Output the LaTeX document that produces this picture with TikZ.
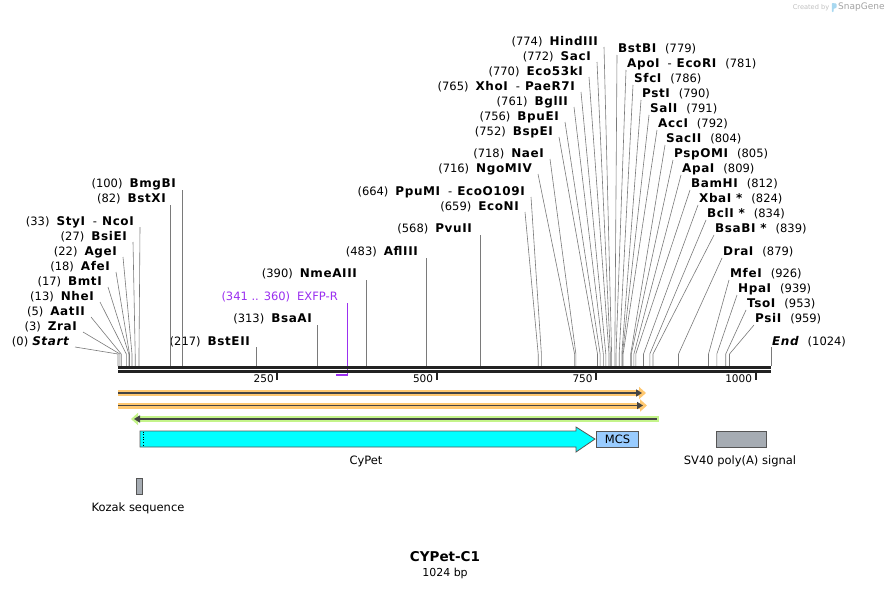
\documentclass[tikz,border=0pt]{standalone}
\usepackage{fontspec}
\setmainfont{DejaVu Sans}
\usetikzlibrary{arrows.meta}

\definecolor{barblack}{HTML}{222222}
\definecolor{cutgrey}{HTML}{7A7A7A}
\definecolor{primerpurple}{HTML}{9B30F0}
\definecolor{orangelt}{HTML}{FFC870}
\definecolor{greenlt}{HTML}{C4F48A}
\definecolor{featdark}{HTML}{444444}
\definecolor{cypetfill}{HTML}{00FFFF}
\definecolor{mcsfill}{HTML}{99CCFF}
\definecolor{polyafill}{HTML}{A6ACB3}
\definecolor{boxedge}{HTML}{555555}
\definecolor{logogrey}{HTML}{C0C0C0}
\definecolor{logoblue}{HTML}{A8D8F0}

\newcommand{\enzyme}[1]{{\fontsize{12}{14}\selectfont\bfseries\addfontfeature{LetterSpace=5}#1}}
\newcommand{\pairdash}{\hspace{8pt}-\hspace{5pt}}

\tikzset{
  lsite/.style={anchor=east, inner sep=0pt, font=\fontsize{11.5}{13}\selectfont},
  rsite/.style={anchor=west, inner sep=0pt, font=\fontsize{11.5}{13}\selectfont},
  cut/.style={draw=cutgrey, line width=0.6pt},
  primer/.style={draw=primerpurple, line width=1.1pt},
  bar/.style={draw=barblack, line width=2.8pt},
  tick/.style={draw=barblack, line width=2pt},
  ticklabel/.style={anchor=east, inner sep=0pt, font=\fontsize{10.5}{12}\selectfont},
  band/.style={draw=#1, line width=6pt},
  core/.style={draw=featdark, line width=1.8pt},
  featbox/.style={draw=boxedge, line width=0.8pt, inner sep=0pt, minimum height=16pt},
  featlabel/.style={inner sep=0pt, font=\fontsize{11.5}{13}\selectfont}
}

\begin{document}
\begin{tikzpicture}[x=1pt,y=-1pt]
\useasboundingbox (0,0) rectangle (890,589);
\fill[white] (0,0) rectangle (890,589);

\foreach \n/\x/\k in {seqstart/118.0/354, zra/119.9/354, aat/121.2/354, nhe/126.3/354, bmt/128.8/354, afe/129.5/354, age/132.0/354, bsie/135.2/354, sty/139.0/354, bstxi/170.3/205, bmgb/181.8/190, bsteii/256.4/347, bsaa/317.6/325, nmea/366.7/280, afl/426.0/258, pvu/480.2/235, econ/538.2/354, ppu/541.4/354, ngo/574.6/354, nae/575.9/354, bspe/597.5/354, bpue/600.1/354, bgl/603.3/354, xho/605.8/354, eco53/609.0/354, sac/610.3/354, hind/611.6/354, bstb/614.8/354, apo/616.0/354, sfc/619.2/354, pst/621.8/354, sal/622.4/354, acc/623.1/354, sacii/630.7/354, pspo/631.3/354, apa/633.9/354, bamh/635.8/354, xba/643.5/354, bcl/649.8/354, bsab/653.0/354, dra/678.5/354, mfe/708.5/354, hpa/716.8/354, tso/725.7/354, psi/729.5/354, seqend/771.0/347}{
  \coordinate (k\n) at (\x,\k);
  \coordinate (b\n) at (\x,366);
}

\node[lsite] (seqstart) at (69,342) {(0)\hspace{4pt}\enzyme{\itshape Start}};
\node[lsite] (zra) at (77,327) {(3)\hspace{7pt}\enzyme{ZraI}};
\node[lsite] (aat) at (85,312) {(5)\hspace{7pt}\enzyme{AatII}};
\node[lsite] (nhe) at (94,297) {(13)\hspace{7pt}\enzyme{NheI}};
\node[lsite] (bmt) at (102,282) {(17)\hspace{7pt}\enzyme{BmtI}};
\node[lsite] (afe) at (110,267) {(18)\hspace{7pt}\enzyme{AfeI}};
\node[lsite] (age) at (117,252) {(22)\hspace{7pt}\enzyme{AgeI}};
\node[lsite] (bsie) at (127,237) {(27)\hspace{7pt}\enzyme{BsiEI}};
\node[lsite] (sty) at (134,222) {(33)\hspace{7pt}\enzyme{StyI}\pairdash\enzyme{NcoI}};
\node[lsite] (bstxi) at (166,199) {(82)\hspace{7pt}\enzyme{BstXI}};
\node[lsite] (bmgb) at (176,184) {(100)\hspace{7pt}\enzyme{BmgBI}};
\node[lsite] (bsteii) at (250,342) {(217)\hspace{7pt}\enzyme{BstEII}};
\node[lsite] (bsaa) at (312,319) {(313)\hspace{7pt}\enzyme{BsaAI}};
\node[lsite, text=primerpurple] (exfp) at (338,297) {(341 .. 360)\hspace{7pt}EXFP-R};
\node[lsite] (nmea) at (357,274) {(390)\hspace{7pt}\enzyme{NmeAIII}};
\node[lsite] (afl) at (418,252) {(483)\hspace{7pt}\enzyme{AflIII}};
\node[lsite] (pvu) at (472,229) {(568)\hspace{7pt}\enzyme{PvuII}};
\node[lsite] (econ) at (519,207) {(659)\hspace{7pt}\enzyme{EcoNI}};
\node[lsite] (ppu) at (525,192) {(664)\hspace{7pt}\enzyme{PpuMI}\pairdash\enzyme{EcoO109I}};
\node[lsite] (ngo) at (532,169) {(716)\hspace{7pt}\enzyme{NgoMIV}};
\node[lsite] (nae) at (544,154) {(718)\hspace{7pt}\enzyme{NaeI}};
\node[lsite] (bspe) at (553,132) {(752)\hspace{7pt}\enzyme{BspEI}};
\node[lsite] (bpue) at (559,117) {(756)\hspace{7pt}\enzyme{BpuEI}};
\node[lsite] (bgl) at (568,102) {(761)\hspace{7pt}\enzyme{BglII}};
\node[lsite] (xho) at (575,87) {(765)\hspace{7pt}\enzyme{XhoI}\pairdash\enzyme{PaeR7I}};
\node[lsite] (eco53) at (583,72) {(770)\hspace{7pt}\enzyme{Eco53kI}};
\node[lsite] (sac) at (591,57) {(772)\hspace{7pt}\enzyme{SacI}};
\node[lsite] (hind) at (598,42) {(774)\hspace{7pt}\enzyme{HindIII}};

\node[rsite] (bstb) at (618,49) {\enzyme{BstBI}\hspace{9pt}(779)};
\node[rsite] (apo) at (627,64) {\enzyme{ApoI}\pairdash\enzyme{EcoRI}\hspace{9pt}(781)};
\node[rsite] (sfc) at (634,79) {\enzyme{SfcI}\hspace{9pt}(786)};
\node[rsite] (pst) at (642,94) {\enzyme{PstI}\hspace{9pt}(790)};
\node[rsite] (sal) at (650,109) {\enzyme{SalI}\hspace{9pt}(791)};
\node[rsite] (acc) at (658,124) {\enzyme{AccI}\hspace{9pt}(792)};
\node[rsite] (sacii) at (666,139) {\enzyme{SacII}\hspace{9pt}(804)};
\node[rsite] (pspo) at (674,154) {\enzyme{PspOMI}\hspace{9pt}(805)};
\node[rsite] (apa) at (682,169) {\enzyme{ApaI}\hspace{9pt}(809)};
\node[rsite] (bamh) at (691,184) {\enzyme{BamHI}\hspace{9pt}(812)};
\node[rsite] (xba) at (699,199) {\enzyme{XbaI *}\hspace{9pt}(824)};
\node[rsite] (bcl) at (707,214) {\enzyme{BclI *}\hspace{9pt}(834)};
\node[rsite] (bsab) at (715,229) {\enzyme{BsaBI *}\hspace{9pt}(839)};
\node[rsite] (dra) at (723,252) {\enzyme{DraI}\hspace{9pt}(879)};
\node[rsite] (mfe) at (730,274) {\enzyme{MfeI}\hspace{9pt}(926)};
\node[rsite] (hpa) at (738,289) {\enzyme{HpaI}\hspace{9pt}(939)};
\node[rsite] (tso) at (747,304) {\enzyme{TsoI}\hspace{9pt}(953)};
\node[rsite] (psi) at (755,319) {\enzyme{PsiI}\hspace{9pt}(959)};
\node[rsite] (seqend) at (772,342) {\enzyme{\itshape End}\hspace{9pt}(1024)};

\foreach \n in {seqstart,zra,aat,nhe,bmt,afe,age,bsie,sty,econ,ppu,ngo,nae,bspe,bpue,bgl,xho,eco53,sac,hind}
  \draw[cut] ([shift={(6pt,-5pt)}]\n.east) -- (k\n) -- (b\n);
\foreach \n in {bstb,apo,sfc,pst,sal,acc,sacii,pspo,apa,bamh,xba,bcl,bsab,dra,mfe,hpa,tso,psi}
  \draw[cut] ([shift={(-1pt,-6pt)}]\n.west) -- (k\n) -- (b\n);
\foreach \n in {bstxi,bmgb,bsteii,bsaa,nmea,afl,pvu,seqend}
  \draw[cut] (k\n) -- (b\n);

\coordinate (exfpb) at (347.6,375);
\coordinate (exfps) at (335.5,375);
\draw[primer] ([shift={(9.6pt,-6pt)}]exfp.east) -- (exfpb) -- (exfps);

\draw[bar] (118,367.5) -- (771,367.5);
\draw[bar] (118,371.5) -- (771,371.5);
\foreach \t/\x in {250/277.4,500/436.8,750/596.3,1000/755.7}{
  \draw[tick] (\x,371) -- (\x,380);
  \node[ticklabel] (t\t) at (\x-3.5,378.5) {\t};
}

\draw[band=orangelt, -{Triangle[length=7pt,width=12pt]}] (118,393) -- (646,393);
\draw[core, -{Triangle[length=6pt,width=7pt]}] (118,393) -- (642,393);
\draw[band=orangelt, -{Triangle[length=7pt,width=12pt]}] (118,405.5) -- (647,405.5);
\draw[core, -{Triangle[length=6pt,width=7pt]}] (118,405.5) -- (643,405.5);
\draw[band=greenlt, {Triangle[length=7pt,width=12pt]}-] (131,419) -- (659,419);
\draw[core, {Triangle[length=6pt,width=7pt]}-] (134,419) -- (657,419);

\draw[boxedge, line width=0.8pt, fill=cypetfill] (140,431) -- (576,431) -- (576,427) -- (595,439) -- (576,452) -- (576,447) -- (140,447) -- cycle;
\draw[black, dotted, line width=0.6pt] (143,431.5) -- (143,446.5);
\node[featlabel] (cypet) at (366,461) {CyPet};

\node[featbox, fill=mcsfill, minimum width=42pt, font=\fontsize{11.5}{13}\selectfont] (mcs) at (617.5,439) {MCS};
\node[featbox, fill=polyafill, minimum width=50pt] (polya) at (741,439) {};
\node[featlabel] (polyalbl) at (740,461) {SV40 poly(A) signal};
\node[featbox, fill=polyafill, minimum width=6.5pt] (kozak) at (139.3,486) {};
\node[featlabel] (kozaklbl) at (138,508) {Kozak sequence};

\node[inner sep=0pt, font=\fontsize{13.5}{15}\selectfont\bfseries] (title) at (445,557) {CYPet-C1};
\node[inner sep=0pt, font=\fontsize{11}{13}\selectfont] (size) at (445,573) {1024 bp};

\node[inner sep=0pt, text=logogrey, font=\fontsize{6.6}{8}\selectfont] (created) at (811,7.5) {Created by};
\fill[logoblue, rounded corners=0.8pt] (831.8,3) -- (836.5,3.5) -- (836.5,8) -- (833.6,8.5) -- (833.6,12) -- (831.8,12) -- cycle;
\node[inner sep=0pt, anchor=west, text=logogrey!85!black, font=\fontsize{9}{10}\selectfont] (snapgene) at (838,7.5) {SnapGene};
\end{tikzpicture}
\end{document}
